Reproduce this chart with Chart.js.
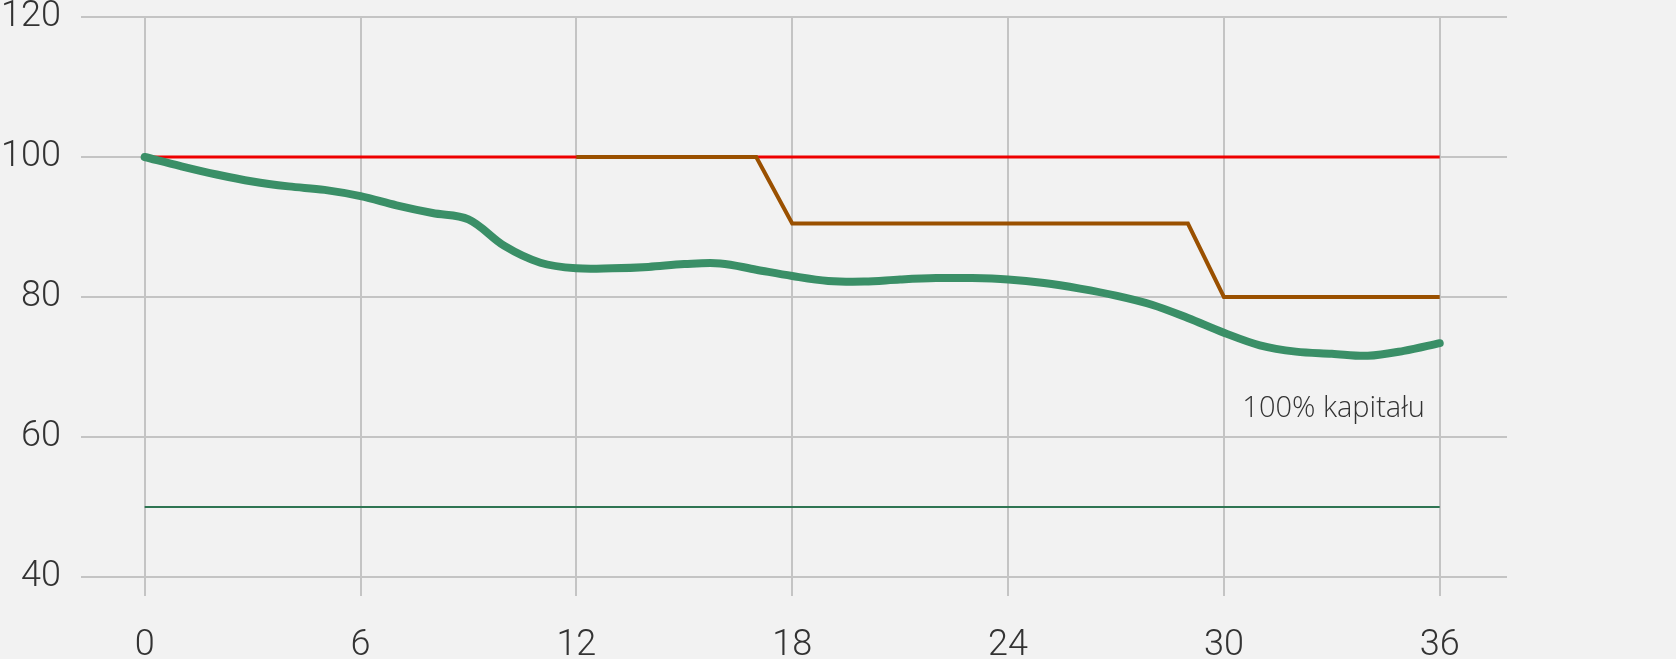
<!DOCTYPE html>
<html>
<head>
<meta charset="utf-8">
<script src="https://cdn.jsdelivr.net/npm/chart.js@4.4.0/dist/chart.umd.min.js"></script>
<style>
  html, body { margin: 0; padding: 0; background: #f2f2f2; }
  #wrap { width: 1676px; height: 659px; }
</style>
</head>
<body>
<div id="wrap"><canvas id="chart" width="1676" height="659"></canvas></div>
<script>
// ── data ─────────────────────────────────────────────
const months = [0,1,2,3,4,5,6,7,8,9,10,11,12,13,14,15,16,17,18,19,20,21,22,23,24,25,26,27,28,29,30,31,32,33,34,35,36];
const capitalValue = [100, 98.7, 97.5, 96.5, 95.8, 95.3, 94.4, 93.1, 92.0, 91.1, 87.3, 84.9, 84.1, 84.1, 84.3, 84.7, 84.8, 83.9, 83.0, 82.3, 82.2, 82.5, 82.7, 82.7, 82.5, 82.0, 81.2, 80.2, 78.9, 77.0, 74.9, 73.1, 72.2, 71.9, 71.6, 72.3, 73.4];
const stepX = [12, 17, 18, 29, 30, 36];
const stepY = [100, 100, 90.5, 90.5, 80, 80];
const fullX = [0, 36];
const fullY = [100, 100];
const floorY = [50, 50];
const xTicks = [0, 6, 12, 18, 24, 30, 36];
const noteText = '100% kapitału';

const pts = (xs, ys) => xs.map((x, i) => ({ x, y: ys[i] }));

const tickFont = { family: 'Roboto', size: 36, weight: 300 };

const notePlugin = {
  id: 'note',
  afterDatasetsDraw(chart) {
    const { ctx, scales: { x, y } } = chart;
    ctx.save();
    ctx.font = '300 29px "Open Sans"';
    ctx.fillStyle = '#333';
    ctx.textAlign = 'center';
    ctx.textBaseline = 'alphabetic';
    ctx.fillText(noteText, x.getPixelForValue(33.05), y.getPixelForValue(62.9));
    ctx.restore();
  }
};

new Chart(document.getElementById('chart'), {
  type: 'line',
  data: {
    datasets: [
      {
        data: pts(months, capitalValue),
        borderColor: '#3a8f67',
        borderWidth: 8,
        borderCapStyle: 'round',
        tension: 0.35,
        pointRadius: 0,
      },
      {
        data: pts(stepX, stepY),
        borderColor: '#9a5000',
        borderWidth: 4,
        tension: 0,
        pointRadius: 0,
      },
      {
        data: pts(fullX, fullY),
        borderColor: '#ee0000',
        borderWidth: 3,
        pointRadius: 0,
      },
      {
        data: pts(fullX, floorY),
        borderColor: '#2f7553',
        borderWidth: 2,
        pointRadius: 0,
      },
    ],
  },
  options: {
    responsive: false,
    animation: false,
    layout: { padding: { left: 0, right: 169, top: 17, bottom: 0 } },
    plugins: {
      legend: { display: false },
      tooltip: { enabled: false },
    },
    scales: {
      x: {
        type: 'linear',
        min: -1.77,
        max: 37.87,
        afterBuildTicks: s => { s.ticks = xTicks.map(v => ({ value: v })); },
        afterFit: s => { s.height = 82; s.paddingLeft = 0; s.paddingRight = 0; },
        grid: { color: '#c4c4c4', lineWidth: 2, tickLength: 19 },
        border: { display: false },
        ticks: { font: tickFont, color: '#333', padding: 28, maxRotation: 0 },
      },
      y: {
        min: 40,
        max: 120,
        afterFit: s => { s.width = 81; s.paddingTop = 0; s.paddingBottom = 0; },
        grid: { color: '#c4c4c4', lineWidth: 2, drawTicks: false },
        border: { display: false },
        ticks: { stepSize: 20, font: tickFont, color: '#333', padding: 20 },
      },
    },
  },
  plugins: [notePlugin],
});
</script>
</body>
</html>
